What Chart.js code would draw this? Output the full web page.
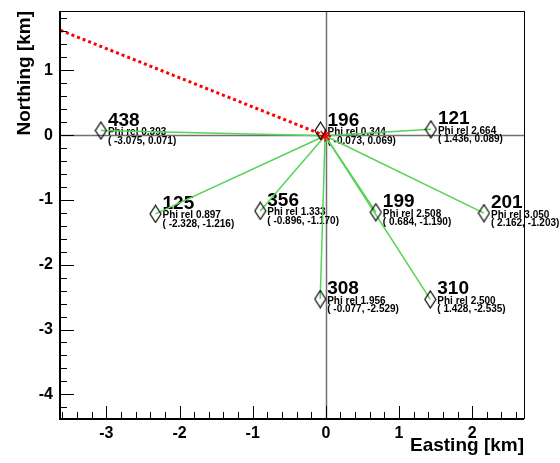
<!DOCTYPE html>
<html>
<head>
<meta charset="utf-8">
<script src="https://cdn.jsdelivr.net/npm/chart.js@4.4.1/dist/chart.umd.min.js"></script>
<style>
html,body{margin:0;padding:0;background:#fff;}
#wrap{width:560px;height:463px;}
</style>
</head>
<body>
<div id="wrap"><canvas id="c" width="560" height="463"></canvas></div>
<script>
// ---- data ----
const stationIds = ['438', '125', '356', '196', '121', '199', '201', '308', '310'];
const eastings   = [-3.075, -2.328, -0.896, -0.073, 1.436, 0.684, 2.162, -0.077, 1.428];
const northings  = [0.071, -1.216, -1.170, 0.069, 0.089, -1.190, -1.203, -2.529, -2.535];
const phiRel     = [0.393, 0.897, 1.333, 0.344, 2.664, 2.508, 3.050, 1.956, 2.500];
const coreX = [-0.01];
const coreY = [-0.01];
const directionX = [-0.01, -3.634];
const directionY = [-0.01, 1.62];
const xTickValues = [-3, -2, -1, 0, 1, 2];
const yTickValues = [1, 0, -1, -2, -3, -4];
const xRange = [-3.634, 2.709];
const yRange = [-4.365, 1.915];

const FONT = '"Liberation Sans", Arial, Helvetica, sans-serif';

// open diamond marker
function makeDiamond() {
  const c = document.createElement('canvas');
  c.width = 13; c.height = 19;
  const g = c.getContext('2d');
  g.strokeStyle = '#000';
  g.lineWidth = 1.2;
  g.beginPath();
  g.moveTo(6.5, 1); g.lineTo(12, 9.5); g.lineTo(6.5, 18); g.lineTo(1, 9.5); g.closePath();
  g.stroke();
  return c;
}
const diamond = makeDiamond();

const datasets = [];
datasets.push({
  label: 'stations',
  data: eastings.map((e, i) => ({x: e, y: northings[i]})),
  showLine: false,
  pointStyle: diamond,
  pointRadius: 7,
  pointHoverRadius: 7,
  order: 0
});
datasets.push({
  label: 'core',
  data: coreX.map((v, i) => ({x: v, y: coreY[i]})),
  showLine: false,
  pointStyle: 'star',
  pointRadius: 6,
  borderColor: '#ff0000',
  backgroundColor: '#ff0000',
  pointBorderWidth: 1.5,
  order: 1
});
eastings.forEach((e, i) => {
  datasets.push({
    label: 'spoke' + stationIds[i],
    type: 'line',
    data: [{x: e, y: northings[i]}, {x: coreX[0], y: coreY[0]}],
    borderColor: '#55d455',
    borderWidth: 1.5,
    pointRadius: 0,
    fill: false,
    order: 2
  });
});
datasets.push({
  label: 'direction',
  type: 'line',
  data: directionX.map((v, i) => ({x: v, y: directionY[i]})),
  borderColor: '#ff0000',
  borderWidth: 3,
  borderDash: [3, 3],
  borderCapStyle: 'butt',
  pointRadius: 0,
  fill: false,
  order: 3
});

const decor = {
  id: 'decor',
  beforeDatasetsDraw(chart) {
    const {ctx, chartArea: a, scales: {x, y}} = chart;
    ctx.save();
    // zero lines
    ctx.strokeStyle = '#707070';
    ctx.lineWidth = 1.5;
    const x0 = Math.round(x.getPixelForValue(0)) + 0.5;
    const y0 = Math.round(y.getPixelForValue(0)) + 0.5;
    ctx.beginPath();
    ctx.moveTo(x0, a.top); ctx.lineTo(x0, a.bottom);
    ctx.moveTo(a.left, y0); ctx.lineTo(a.right, y0);
    ctx.stroke();
    // labels
    ctx.fillStyle = '#000';
    ctx.textBaseline = 'alphabetic';
    ctx.textAlign = 'left';
    stationIds.forEach((id, i) => {
      const px = x.getPixelForValue(eastings[i]);
      const py = y.getPixelForValue(northings[i]);
      ctx.font = 'bold 19px ' + FONT;
      ctx.fillText(id, px + 7, py - 5);
      ctx.font = 'bold 10px ' + FONT;
      ctx.fillText('Phi rel ' + phiRel[i].toFixed(3), px + 7, py + 4.5);
      ctx.fillText('( ' + eastings[i].toFixed(3) + ', ' + northings[i].toFixed(3) + ')', px + 7, py + 13);
    });
    ctx.restore();
  },
  afterDraw(chart) {
    const {ctx, chartArea: a, scales: {x, y}} = chart;
    ctx.save();
    ctx.strokeStyle = '#000';
    // inner ticks
    ctx.lineWidth = 1;
    ctx.beginPath();
    for (let k = Math.ceil(xRange[0] * 5); k <= Math.floor(xRange[1] * 5); k++) {
      const px = Math.round(x.getPixelForValue(k / 5)) + 0.5;
      const len = (k % 5 === 0) ? 12 : 6;
      ctx.moveTo(px, a.bottom); ctx.lineTo(px, a.bottom - len);
    }
    for (let k = Math.ceil(yRange[0] * 5); k <= Math.floor(yRange[1] * 5); k++) {
      const py = Math.round(y.getPixelForValue(k / 5)) + 0.5;
      const len = (k % 5 === 0) ? 14 : 7;
      ctx.moveTo(a.left, py); ctx.lineTo(a.left + len, py);
    }
    ctx.stroke();
    // frame
    ctx.lineWidth = 1;
    ctx.strokeRect(Math.round(a.left) + 0.5, Math.round(a.top) + 0.5, Math.round(a.right - a.left), Math.round(a.bottom - a.top));
    ctx.lineWidth = 2;
    ctx.beginPath();
    ctx.moveTo(a.left, a.top); ctx.lineTo(a.left, a.bottom + 1); ctx.lineTo(a.right, a.bottom + 1);
    ctx.stroke();
    ctx.restore();
  }
};

new Chart(document.getElementById('c'), {
  type: 'scatter',
  data: {datasets},
  options: {
    responsive: false,
    animation: false,
    devicePixelRatio: 1,
    layout: {padding: {left: 13, right: 36, top: 11, bottom: 6}},
    plugins: {legend: {display: false}, tooltip: {enabled: false}},
    scales: {
      x: {
        type: 'linear',
        min: xRange[0], max: xRange[1],
        afterBuildTicks: s => { s.ticks = xTickValues.map(v => ({value: v})); },
        afterFit: s => { s.height = 39; s.paddingLeft = 0; s.paddingRight = 0; },
        grid: {display: false, drawTicks: false},
        border: {display: false},
        ticks: {color: '#000', font: {family: FONT, size: 16, weight: 'bold'}, padding: 6, maxRotation: 0, autoSkip: false},
        title: {display: true, text: 'Easting [km]', align: 'end', color: '#000', font: {family: FONT, size: 19, weight: 'bold'}, padding: 0}
      },
      y: {
        type: 'linear',
        min: yRange[0], max: yRange[1],
        afterBuildTicks: s => { s.ticks = yTickValues.map(v => ({value: v})); },
        afterFit: s => { s.width = 47; s.paddingTop = 0; s.paddingBottom = 0; },
        grid: {display: false, drawTicks: false},
        border: {display: false},
        ticks: {color: '#000', font: {family: FONT, size: 16, weight: 'bold'}, padding: 7, autoSkip: false},
        title: {display: true, text: 'Northing [km]', align: 'end', color: '#000', font: {family: FONT, size: 19, weight: 'bold'}, padding: 0}
      }
    }
  },
  plugins: [decor]
});
</script>
</body>
</html>
